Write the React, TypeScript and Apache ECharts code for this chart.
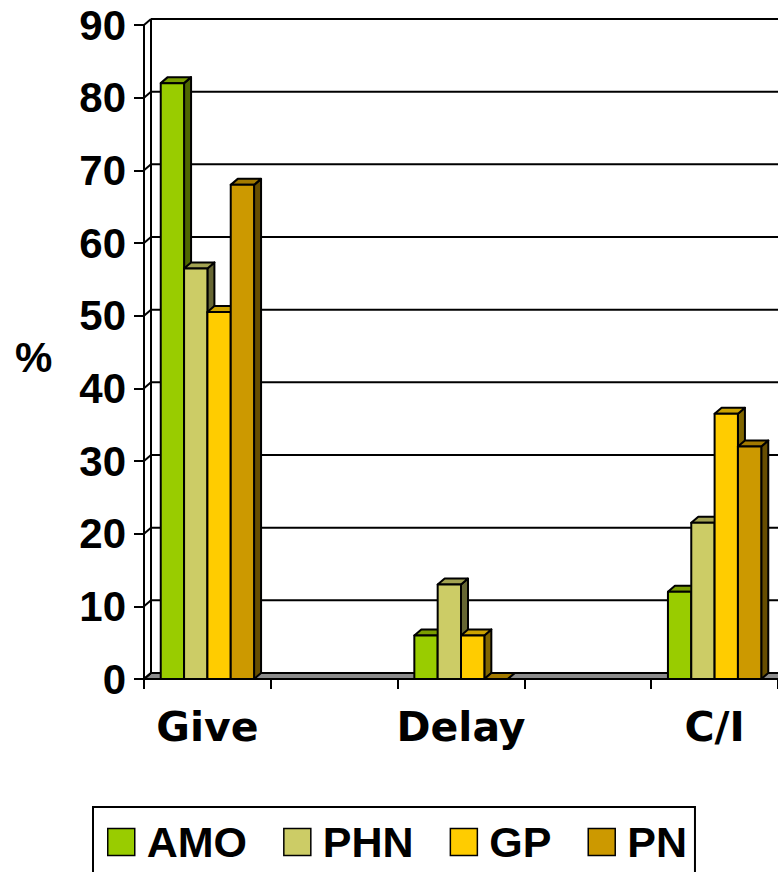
import React, { useEffect, useRef } from "react";
import * as echarts from "echarts";

// Category slots: the blank slots keep the empty gaps between groups.
const categories = ["Give", "", "Delay", "", "C/I"];
const groups = ["Give", "Delay", "C/I"];

const seriesNames = ["AMO", "PHN", "GP", "PN"];
const amo = [82, 6, 12];
const phn = [56.5, 13, 21.5];
const gp = [50.5, 6, 36.5];
const pn = [68, 0, 32];
const seriesValues = [amo, phn, gp, pn];

// Front, top and side face colours for each series.
const frontColors = ["#99CC00", "#CCCC66", "#FFCC00", "#CC9900"];
const topColors = ["#7A9E00", "#A3A352", "#CCA300", "#A37A00"];
const sideColors = ["#4D6600", "#666633", "#806600", "#664D00"];

const yTicks = [0, 10, 20, 30, 40, 50, 60, 70, 80, 90];
const Y_MAX = 90;

// Depth of the 3D box (pixels to the right and up).
const DX = 7;
const DY = 6;
const BAR_FRACTION = 0.184;
const LINE = 2;

export default function App() {
  const ref = useRef<HTMLDivElement>(null);

  useEffect(() => {
    if (!ref.current) return;
    const chart = echarts.init(ref.current, null, { renderer: "svg" });

    const frameSeries: any = {
      type: "custom",
      name: "frame",
      silent: true,
      clip: false,
      z: 1,
      data: yTicks.map((v) => [0, v]),
      renderItem: (params: any, api: any) => {
        const v = api.value(1);
        const cs = params.coordSys;
        const y = api.coord([0, v])[1];
        const y0 = api.coord([0, 0])[1];
        const bx = cs.x + DX;
        const by = y - DY;
        const right = cs.x + cs.width + DX;
        const lineStyle = { stroke: "#000", lineWidth: LINE };
        const children: any[] = [];
        if (v === 0) {
          children.push({
            type: "polygon",
            shape: { points: [[cs.x, y], [right, y], [right, by], [bx, by]] },
            style: { fill: "#8C8C8C", stroke: "#000", lineWidth: LINE },
          });
        } else {
          children.push({
            type: "line",
            shape: { x1: bx, y1: by, x2: right, y2: by },
            style: lineStyle,
          });
        }
        children.push({
          type: "line",
          shape: { x1: cs.x, y1: y, x2: bx, y2: by },
          style: lineStyle,
        });
        if (v === Y_MAX) {
          children.push({
            type: "line",
            shape: { x1: bx, y1: by, x2: bx, y2: y0 - DY },
            style: lineStyle,
          });
        }
        return { type: "group", children };
      },
    };

    const barSeries = seriesNames.map((name, i) => ({
      type: "custom",
      name,
      clip: false,
      z: 2,
      itemStyle: { color: frontColors[i] },
      data: groups.map((g, k) => [categories.indexOf(g), seriesValues[i][k]]),
      renderItem: (params: any, api: any) => {
        const cat = api.value(0);
        const val = api.value(1);
        const base = api.coord([cat, 0]);
        const topPt = api.coord([cat, val]);
        const band = api.size([1, 0])[0];
        const bw = band * BAR_FRACTION;
        const x0 = base[0] - 2 * bw + i * bw;
        const x1 = x0 + bw;
        const yT = topPt[1];
        const yB = base[1];
        const stroke = { stroke: "#000", lineWidth: LINE, lineJoin: "round" };
        return {
          type: "group",
          children: [
            {
              type: "polygon",
              shape: { points: [[x1, yT], [x1 + DX, yT - DY], [x1 + DX, yB - DY], [x1, yB]] },
              style: { fill: sideColors[i], ...stroke },
            },
            {
              type: "polygon",
              shape: { points: [[x0, yT], [x1, yT], [x1 + DX, yT - DY], [x0 + DX, yT - DY]] },
              style: { fill: topColors[i], ...stroke },
            },
            {
              type: "rect",
              shape: { x: x0, y: yT, width: bw, height: yB - yT },
              style: { fill: frontColors[i], ...stroke },
            },
          ],
        };
      },
    }));

    chart.setOption({
      animation: false,
      backgroundColor: "#fff",
      grid: { left: 144, top: 25, right: 0, bottom: 193, containLabel: false },
      xAxis: {
        type: "category",
        data: categories,
        boundaryGap: true,
        axisLine: { show: true, lineStyle: { color: "#000", width: LINE } },
        axisTick: { show: true, interval: 0, length: 10, lineStyle: { color: "#000", width: LINE } },
        axisLabel: {
          interval: 0,
          margin: 27,
          color: "#000",
          fontFamily: "DejaVu Sans",
          fontWeight: "bold",
          fontSize: 41,
        },
        splitLine: { show: false },
      },
      yAxis: {
        type: "value",
        min: 0,
        max: Y_MAX,
        interval: 10,
        axisLine: { show: true, lineStyle: { color: "#000", width: LINE } },
        axisTick: { show: true, length: 10, lineStyle: { color: "#000", width: LINE } },
        axisLabel: {
          margin: 18,
          color: "#000",
          fontFamily: "Liberation Sans",
          fontWeight: "bold",
          fontSize: 42,
        },
        splitLine: { show: false },
      },
      legend: {
        data: seriesNames.map((n) => ({ name: n, icon: "rect" })),
        left: 93,
        top: 807,
        orient: "horizontal",
        itemWidth: 27,
        itemHeight: 27,
        itemGap: 36,
        padding: [10, 8, 30, 14],
        borderColor: "#000",
        borderWidth: LINE,
        selectedMode: false,
        itemStyle: { borderColor: "#000", borderWidth: 1.5 },
        textStyle: {
          color: "#000",
          fontFamily: "Liberation Sans",
          fontWeight: "bold",
          fontSize: 43,
          lineHeight: 50,
          padding: [0, 0, 0, 7],
        },
      },
      graphic: [
        {
          type: "text",
          left: 15,
          top: 336,
          style: {
            text: "%",
            fill: "#000",
            font: "bold 42px 'Liberation Sans'",
          },
        },
      ],
      series: [frameSeries, ...barSeries],
    });

    return () => chart.dispose();
  }, []);

  return (
    <div
      ref={ref}
      style={{ position: "absolute", left: 0, top: 0, width: 778, height: 872 }}
    />
  );
}
